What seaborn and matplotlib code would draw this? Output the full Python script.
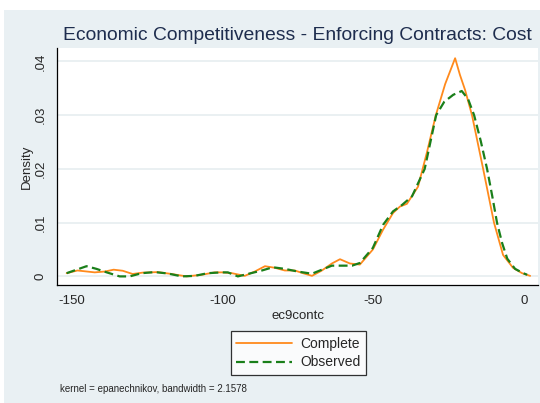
import seaborn as sns
import pandas as pd
import numpy as np
import matplotlib.pyplot as plt
from matplotlib.patches import Rectangle
from matplotlib.lines import Line2D

sns.set_style("white")
plt.rcParams['font.family'] = ['Liberation Sans', 'DejaVu Sans']

# kernel density estimates
complete_x = [-151.8, -148.2, -142.5, -139.2, -136.2, -133.2, -129.9, -126.6, -121.6, -117.6,
              -112.0, -107.0, -102.7, -100.3, -97.0, -92.7, -89.4, -86.0, -82.7, -79.4,
              -76.1, -73.4, -70.4, -67.1, -63.8, -61.1, -57.8, -54.5, -50.2, -46.8,
              -43.5, -41.2, -38.9, -35.2, -32.2, -29.3, -26.2, -22.9, -21.3, -19.6,
              -17.3, -13.6, -10.0, -7.0, -3.7, -0.7, 2.0]
complete_y = [0.0006, 0.0011, 0.00075, 0.0009, 0.00125, 0.00105, 0.00045, 0.0007, 0.0008, 0.0005,
              0.0000, 0.0003, 0.00075, 0.00075, 0.0006, 0.0001, 0.0009, 0.0019, 0.0016, 0.0011,
              0.0011, 0.0006, 0.0001, 0.0011, 0.0024, 0.0032, 0.0024, 0.0022, 0.0050, 0.0087,
              0.0118, 0.0130, 0.0135, 0.0167, 0.0232, 0.0300, 0.0358, 0.0406, 0.0375, 0.0347,
              0.0300, 0.0200, 0.0100, 0.0040, 0.0016, 0.0006, 0.0001]

observed_x = [-151.8, -145.2, -141.9, -138.5, -134.2, -130.9, -126.9, -122.6, -118.3, -113.6,
              -109.3, -105.0, -100.3, -98.3, -95.0, -91.7, -87.0, -83.4, -79.4, -75.1,
              -70.4, -67.1, -63.8, -60.5, -57.1, -54.5, -50.2, -46.8, -43.5, -40.5,
              -37.2, -33.0, -29.2, -26.5, -23.5, -20.7, -18.6, -16.6, -14.4, -12.3,
              -10.6, -9.0, -7.3, -5.6, -3.0, -0.3, 1.0]
observed_y = [0.0006, 0.0019, 0.0014, 0.00075, 0.0000, 0.0000, 0.0006, 0.0008, 0.00055, 0.0000,
              0.0001, 0.0006, 0.00075, 0.00075, 0.0000, 0.00045, 0.0011, 0.0017, 0.0014, 0.0009,
              0.0005, 0.00125, 0.0020, 0.0020, 0.0020, 0.0025, 0.0053, 0.0096, 0.0121, 0.0133,
              0.0149, 0.0200, 0.0300, 0.0325, 0.0338, 0.0345, 0.0330, 0.0300, 0.0252, 0.0200,
              0.0150, 0.0100, 0.0062, 0.0033, 0.0014, 0.0006, 0.0003]

x_ticks = [-150, -100, -50, 0]
y_ticks = [0, 0.01, 0.02, 0.03, 0.04]
y_tick_labels = ['0', '.01', '.02', '.03', '.04']

df = pd.concat([
    pd.DataFrame({'ec9contc': complete_x, 'Density': complete_y, 'series': 'Complete'}),
    pd.DataFrame({'ec9contc': observed_x, 'Density': observed_y, 'series': 'Observed'}),
])

fig = plt.figure(figsize=(5.4, 4.03), dpi=100)
fig.patches.append(Rectangle((4 / 540, 0), 1, 1 - 10 / 403, transform=fig.transFigure,
                             facecolor='#E9F0F3', edgecolor='none', zorder=-10))
ax = fig.add_axes([57 / 540, 1 - 285 / 403, 481 / 540, 237 / 403])
ax.set_facecolor('white')

ax.grid(axis='y', color='#E6EEF0', linewidth=1.2)
ax.set_axisbelow(True)

sns.lineplot(data=df, x='ec9contc', y='Density', hue='series', style='series',
             palette={'Complete': '#FF8A1C', 'Observed': '#1A7F1A'},
             dashes={'Complete': '', 'Observed': (4, 2)},
             estimator=None, sort=True, ax=ax, legend=False)
ax.lines[0].set_linewidth(1.3)
ax.lines[1].set_linewidth(1.6)

ax.set_xlim(-155, 4.6)
ax.set_ylim(-0.0016, 0.0425)
ax.set_xticks(x_ticks)
ax.set_xticklabels([str(t) for t in x_ticks], fontsize=9.5)
ax.set_yticks(y_ticks)
ax.set_yticklabels(y_tick_labels, fontsize=9.5, rotation=90, va='center')
ax.tick_params(axis='both', direction='out', length=5.5, width=0.8, color='black', pad=2)

for s in ['top', 'right']:
    ax.spines[s].set_visible(False)
for s in ['left', 'bottom']:
    ax.spines[s].set_color('black')
    ax.spines[s].set_linewidth(0.9)

ax.set_xlabel('ec9contc', fontsize=9.5, labelpad=2)
ax.set_ylabel('Density', fontsize=9.5, labelpad=1)

fig.text(297 / 540, 1 - 36 / 403, 'Economic Competitiveness - Enforcing Contracts: Cost',
         ha='center', va='center', fontsize=13.9, color='#1E2D4E')

handles = [Line2D([], [], color='#FF8A1C', lw=1.3),
           Line2D([], [], color='#1A7F1A', lw=1.6, dashes=(4, 2))]
leg = fig.legend(handles, ['Complete', 'Observed'], loc='center',
                 bbox_to_anchor=(298.5 / 540, 1 - 353 / 403), bbox_transform=fig.transFigure,
                 fontsize=10, handlelength=4.0, frameon=True, fancybox=False,
                 borderpad=0.4, labelspacing=0.35, handletextpad=0.6)
leg.get_frame().set_edgecolor('black')
leg.get_frame().set_linewidth(0.9)
leg.get_frame().set_facecolor('white')

fig.text(60 / 540, 1 - 389 / 403, 'kernel = epanechnikov, bandwidth = 2.1578',
         ha='left', va='center', fontsize=7)

fig.savefig('out.png', dpi=100)
